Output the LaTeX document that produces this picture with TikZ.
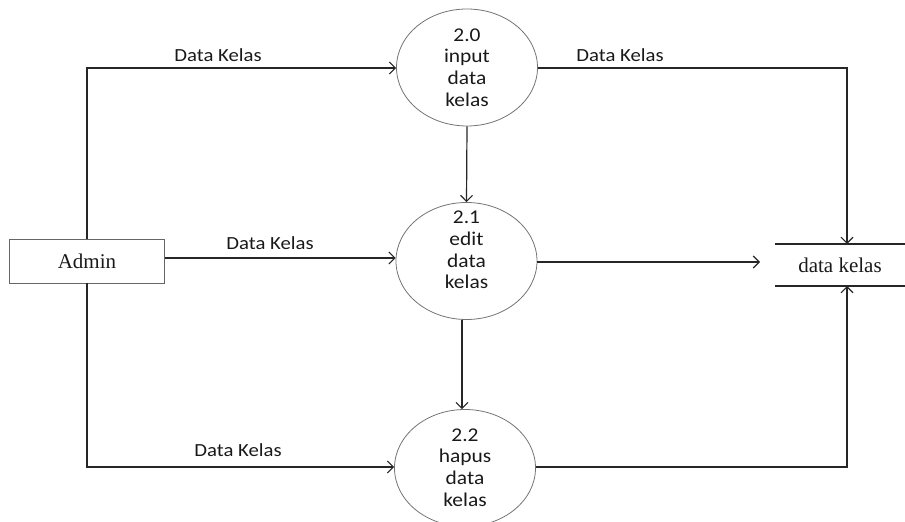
\documentclass[tikz,border=0pt]{standalone}
\usepackage{fontspec}
\setmainfont{Liberation Serif}
\newfontfamily\lblfont{Carlito}
\usetikzlibrary{arrows.meta,shapes.geometric}
\tikzset{
  proc/.style={ellipse, draw=black!55, line width=0.8pt, minimum width=141pt, minimum height=117pt, inner sep=0pt},
  proctext/.style={align=center, font=\lblfont\fontsize{19.5}{21.7}\selectfont, text=black!90, xscale=1.1, transform shape},
  flow/.style={draw=black!85, line width=1.2pt},
  arr/.style={flow, -{Straight Barb[length=6pt,width=12pt,line width=1.1pt]}},
  flowlbl/.style={font=\lblfont\fontsize{18.5}{20}\selectfont, text=black!90, inner sep=0pt, xscale=1.12, transform shape},
  ent/.style={draw=black!60, line width=0.8pt, minimum width=155pt, minimum height=44pt, font=\fontsize{21}{24}\selectfont, text=black!90},
}
\begin{document}
\begin{tikzpicture}[x=1pt,y=1pt]
\useasboundingbox (0,0) rectangle (905,522);
% entity
\node[ent] (admin) at (87,261) {Admin};
% processes
\node[proc] (p20) at (467,454.5) {};
\node[proctext] (t20) at (467,454.5) {2.0\\input\\data\\kelas};
\node[proc] (p21) at (466.5,261) {};
\node[proctext] (t21) at (466.5,272) {2.1\\edit\\data\\kelas};
\node[proc] (p22) at (465,54) {};
\node[proctext] (t22) at (465,54.5) {2.2\\hapus\\data\\kelas};
% data store
\coordinate (sTL) at (775,278);
\coordinate (sTR) at (905,278);
\coordinate (sBL) at (775,236);
\coordinate (sBR) at (905,236);
\draw[draw=black!85, line width=1.2pt] (sTL) -- (sTR) (sBL) -- (sBR);
\node[font=\fontsize{21}{24}\selectfont, text=black!90] (store) at (840,257) {data kelas};
\coordinate (storeTop) at (847,278);
\coordinate (storeBot) at (847,236);
% bends
\coordinate (c1) at (87,454);
\coordinate (c2) at (87,55);
\coordinate (c3) at (847,454);
\coordinate (c4) at (847,55);
\coordinate (midEnd) at (760,260);
% flows
\draw[arr] (admin.north) -- (c1) -- (p20.west |- c1);
\draw[arr] (admin.east |- 0,264) -- (p21.west |- 0,264);
\draw[arr] (admin.south) -- (c2) -- (p22.west |- c2);
\draw[arr] (p20.south) -- (p21.north);
\draw[arr] (p21.south -| 462,0) -- (p22.north -| 462,0);
\draw[arr] (p20.east |- c3) -- (c3) -- (storeTop);
\draw[arr] (p21.east |- midEnd) -- (midEnd);
\draw[arr] (p22.east |- c4) -- (c4) -- (storeBot);
% labels
\node[flowlbl] (l1) at (218,467) {Data Kelas};
\node[flowlbl] (l2) at (620,467) {Data Kelas};
\node[flowlbl] (l3) at (270,279) {Data Kelas};
\node[flowlbl] (l4) at (238,72) {Data Kelas};
\end{tikzpicture}
\end{document}
